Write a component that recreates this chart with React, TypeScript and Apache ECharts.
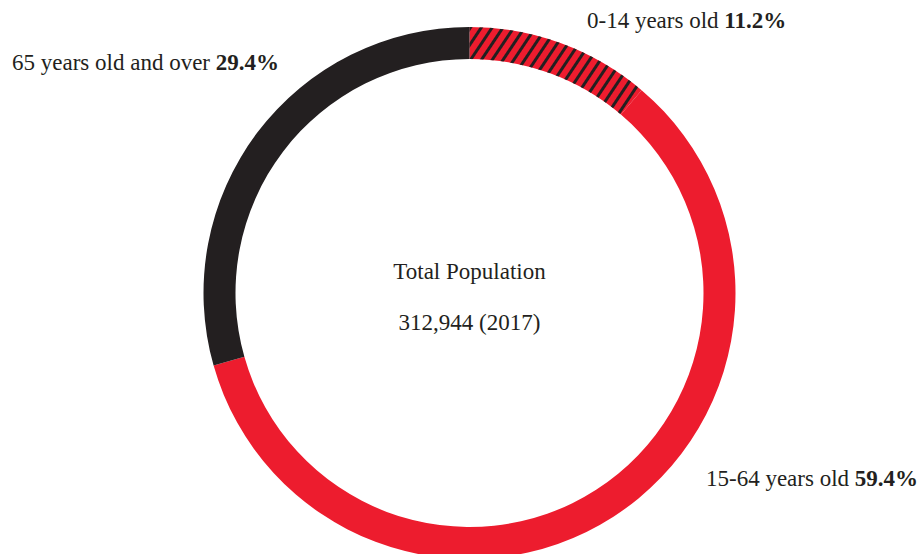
import React, { useEffect, useRef } from "react";
import * as echarts from "echarts";

const categories = ["0-14 years old", "15-64 years old", "65 years old and over"];
const shares = [11.2, 59.4, 29.4];
const centerTitle = "Total Population";
const centerValue = "312,944 (2017)";

const RED = "#ED1C2E";
const BLACK = "#231F20";
const FONT = "'Liberation Serif', 'DejaVu Serif', serif";

const labelPos = [
  { x: 587, y: 20 },
  { x: 706, y: 478 },
  { x: 12, y: 62 },
];

export default function App() {
  const ref = useRef<HTMLDivElement>(null);
  useEffect(() => {
    if (!ref.current) return;
    const chart = echarts.init(ref.current, null, { renderer: "svg" });
    const colors = [RED, RED, BLACK];
    chart.setOption({
      animation: false,
      backgroundColor: "#ffffff",
      graphic: [
        {
          type: "text",
          x: 469.5,
          y: 271,
          style: {
            text: centerTitle,
            font: `23px ${FONT}`,
            fill: BLACK,
            align: "center",
            verticalAlign: "middle",
          },
        },
        {
          type: "text",
          x: 469.5,
          y: 322,
          style: {
            text: centerValue,
            font: `23px ${FONT}`,
            fill: BLACK,
            align: "center",
            verticalAlign: "middle",
          },
        },
      ],
      series: [
        {
          type: "pie",
          center: [469.5, 293],
          radius: [234, 266],
          startAngle: 90,
          clockwise: true,
          silent: true,
          avoidLabelOverlap: false,
          labelLine: { show: false },
          label: {
            show: true,
            position: "outside",
            formatter: (p: any) => `{n|${p.name} }{v|${p.value}%}`,
            rich: {
              n: { fontFamily: FONT, fontSize: 23, color: BLACK },
              v: { fontFamily: FONT, fontSize: 23, fontWeight: "bold", color: BLACK },
            },
          },
          labelLayout: (params: any) => {
            const p = labelPos[params.dataIndex];
            return { x: p.x, y: p.y, align: "left", verticalAlign: "middle" };
          },
          data: categories.map((name, i) => ({
            name,
            value: shares[i],
            itemStyle: {
              color: colors[i],
              borderWidth: 0,
              decal:
                i === 0
                  ? {
                      symbol: "rect",
                      color: BLACK,
                      dashArrayX: [1, 0],
                      dashArrayY: [3, 6],
                      rotation: -Math.PI / 3.2,
                      symbolSize: 1,
                    }
                  : undefined,
            },
          })),
        },
      ],
    });
    return () => chart.dispose();
  }, []);
  return (
    <div
      ref={ref}
      style={{ position: "fixed", left: 0, top: 0, width: 917, height: 554 }}
    />
  );
}
